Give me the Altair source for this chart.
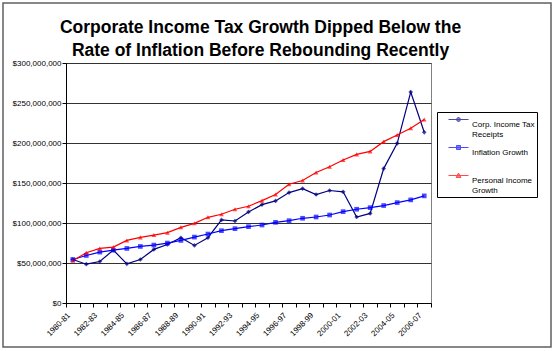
import json
import altair as alt
import pandas as pd

years = ["1980-81", "1981-82", "1982-83", "1983-84", "1984-85", "1985-86", "1986-87",
         "1987-88", "1988-89", "1989-90", "1990-91", "1991-92", "1992-93", "1993-94",
         "1994-95", "1995-96", "1996-97", "1997-98", "1998-99", "1999-00", "2000-01",
         "2001-02", "2002-03", "2003-04", "2004-05", "2005-06", "2006-07"]
shown_labels = ["1980-81", "1982-83", "1984-85", "1986-87", "1988-89", "1990-91", "1992-93",
                "1994-95", "1996-97", "1998-99", "2000-01", "2002-03", "2004-05", "2006-07"]

series = ["Corp. Income Tax Receipts", "Inflation Growth", "Personal Income Growth"]

# values in millions of dollars
corp = [54.4, 48.5, 51.9, 66.1, 49.0, 54.4, 67.0, 73.2, 81.6, 72.0, 81.6, 103.8, 102.5, 113.8,
        123.0, 127.6, 138.0, 143.0, 135.6, 140.6, 139.0, 107.5, 112.0, 168.0, 199.6, 263.6, 213.4]
inflation = [54.4, 59.4, 63.6, 66.1, 68.2, 70.7, 72.4, 74.9, 78.2, 82.4, 86.2, 90.4, 92.9, 95.4,
             97.5, 100.8, 102.9, 105.9, 107.5, 110.0, 114.2, 117.2, 119.2, 121.8, 125.5, 128.9, 133.9]
personal = [52.7, 62.8, 68.2, 69.9, 78.2, 82.0, 84.9, 87.9, 94.6, 99.6, 107.1, 110.9, 117.2, 120.9,
            128.0, 135.6, 148.5, 153.1, 163.2, 170.3, 178.7, 185.8, 189.5, 201.7, 210.0, 218.4, 229.3]

y_ticks = [0, 50e6, 100e6, 150e6, 200e6, 250e6, 300e6]

colors = ["#000080", "#0000FF", "#FF0000"]
marker_shapes = ["diamond", "square", "triangle-up"]
legend_shapes = [
    "M-0.1,-0.5H1.9M0.9,-0.75L1.15,-0.5L0.9,-0.25L0.65,-0.5Z",
    "M-0.1,-0.5H1.9M0.7,-0.7H1.1V-0.3H0.7Z",
    "M-0.1,-0.5H1.9M0.9,-0.75L1.14,-0.3H0.66Z",
]

rows = []
for name, vals in zip(series, [corp, inflation, personal]):
    for yr, v in zip(years, vals):
        rows.append({"year": yr, "series": name, "value": v * 1e6})
df = pd.DataFrame(rows)

FONT = "Liberation Sans"
color_scale = alt.Scale(domain=series, range=colors)

label_expr = f"indexof({json.dumps(shown_labels)}, datum.value) >= 0 ? datum.label : ''"

x_enc = alt.X("year:O", sort=years,
              scale=alt.Scale(type="band", paddingInner=0, paddingOuter=0),
              axis=alt.Axis(title=None, tickBand="extent", labelAngle=315, labelExpr=label_expr,
                            labelAlign="right", labelBaseline="middle", labelFont=FONT,
                            labelFontSize=8, labelPadding=7, labelOffset=-4, tickSize=4,
                            tickColor="black", domainColor="black", labelColor="black",
                            grid=False, labelOverlap=False))
y_enc = alt.Y("value:Q", scale=alt.Scale(domain=[0, 300e6], nice=False),
              axis=alt.Axis(title=None, values=y_ticks, format="$,.0f", labelFont=FONT,
                            labelFontSize=8, tickSize=4, tickColor="black", domainColor="black",
                            labelColor="black", gridColor="#333333", gridWidth=1, labelPadding=1))

base = alt.Chart(df)

lines = base.mark_line(strokeWidth=1.2).encode(
    x=x_enc, y=y_enc,
    stroke=alt.Stroke("series:N", scale=color_scale, legend=None),
    detail="series:N",
)

points = base.mark_point(filled=True, size=22, strokeWidth=0).encode(
    x=x_enc, y=y_enc,
    fill=alt.Fill("series:N", scale=color_scale, legend=None),
    shape=alt.Shape("series:N", scale=alt.Scale(domain=series, range=marker_shapes), legend=None),
)

legend_expr = ("datum.label == 'Corp. Income Tax Receipts' ? ['Corp. Income Tax     ', 'Receipts'] : "
               "datum.label == 'Personal Income Growth' ? ['Personal Income', 'Growth'] : "
               "[datum.label, '']")

legend_def = alt.Legend(title=None, orient="none", legendX=371, legendY=49,
                        strokeColor="black", fillColor="white", padding=2,
                        labelFont=FONT, labelFontSize=8, labelExpr=legend_expr,
                        symbolSize=400, symbolStrokeWidth=1, labelColor="black",
                        rowPadding=3, labelOffset=12)

legend_layer = base.transform_filter("false").mark_point(filled=True, strokeWidth=1).encode(
    shape=alt.Shape("series:N", scale=alt.Scale(domain=series, range=legend_shapes),
                    legend=legend_def),
    fill=alt.Fill("series:N", scale=color_scale, legend=legend_def),
    stroke=alt.Stroke("series:N", scale=color_scale, legend=legend_def),
)

border = alt.Chart(pd.DataFrame({"a": [0]})).mark_rect(
    fillOpacity=0, stroke="#606060", strokeWidth=1.5, clip=False
).encode(x=alt.value(-63), x2=alt.value(485), y=alt.value(-60), y2=alt.value(284))

chart = alt.layer(lines, points, legend_layer, border).resolve_scale(
    shape="independent", fill="independent", stroke="independent"
).properties(
    width=365, height=240,
    padding={"left": 66, "top": 63, "right": 123, "bottom": 48},
    autosize=alt.AutoSizeParams(type="none"),
    background="white",
    title=alt.TitleParams(
        ["Corporate Income Tax Growth Dipped Below the",
         "Rate of Inflation Before Rebounding Recently"],
        font=FONT, fontSize=17.5, fontWeight="bold", color="black", anchor="middle",
        baseline="alphabetic", dx=12, offset=-71, lineHeight=23,
    ),
).configure_view(stroke="#808080", strokeWidth=1)

chart.save("out.html", embed_options={"renderer": "svg", "actions": False})
